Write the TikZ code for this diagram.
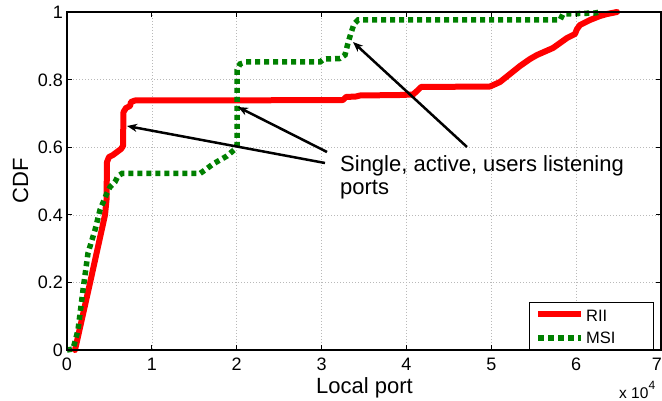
\documentclass[tikz,border=0pt]{standalone}
\usepackage{fontspec}
\setmainfont{Liberation Sans}
\usetikzlibrary{arrows.meta}
\begin{document}
\begin{tikzpicture}[x=1pt,y=-1pt,
  gridline/.style={gray!55, line width=0.6pt, dash pattern=on 0.8pt off 2.2pt},
  axisline/.style={black, line width=1.5pt},
  tickline/.style={black, line width=1pt},
  riicurve/.style={red, line width=6pt, line join=round, line cap=round},
  msicurve/.style={green!50!black, line width=5.5pt, dash pattern=on 5pt off 4pt},
  pointer/.style={black, line width=2.5pt, -{Stealth[length=10pt,width=8pt,inset=3pt]}},
  ticklabel/.style={font=\fontsize{18}{18}\selectfont, inner sep=0pt},
  axlabel/.style={font=\fontsize{22}{22}\selectfont, inner sep=0pt},
  notelabel/.style={font=\fontsize{22}{22}\selectfont, inner sep=0pt},
  legtext/.style={font=\fontsize{16.5}{16.5}\selectfont, inner sep=0pt}
]
\useasboundingbox (0,0) rectangle (662,401);
% grid
\foreach \v in {1,...,6} \draw[gridline] ({67+84.857*\v},12) -- ({67+84.857*\v},350);
\foreach \p in {0.2,0.4,0.6,0.8} \draw[gridline] (67,{350-338*\p}) -- (661,{350-338*\p});
% RII curve
\draw[riicurve] (75,350) -- (90,283) -- (105,215) -- (106.5,200) -- (107,162) -- (109,157)
  -- (113,155) -- (117,152) -- (121,149) -- (123,146) -- (123.5,112) -- (126,108) -- (130,106)
  -- (131,102) -- (135,100.5) -- (200,100.5) -- (343,100) -- (346,97) -- (356,96.5) -- (360,95.5)
  -- (400,95) -- (413,94.5) -- (417,91) -- (421,87) -- (490,86.5) -- (500,82) -- (510,74)
  -- (520,66) -- (530,59) -- (537,55) -- (553,48) -- (567,38) -- (575,34) -- (577,29)
  -- (580,25) -- (590,20) -- (600,16) -- (607,14) -- (617,12);
% MSI curve
\draw[msicurve] (67,350) -- (73,349) -- (76,338) -- (78,330) -- (83,290) -- (88,253) -- (95,230)
  -- (100,210) -- (107,193) -- (110,187) -- (115,182) -- (118,176) -- (122,173.5) -- (200,173.5)
  -- (205,170) -- (213,164) -- (227,156) -- (234,150) -- (237,145) -- (237,70) -- (240,64)
  -- (246,62) -- (320,62) -- (324,59) -- (340,58.5) -- (345,55) -- (348,43) -- (351,33)
  -- (354,24) -- (358,20) -- (560,20) -- (563,14) -- (595,13) -- (600,12);
% axes box
\draw[axisline] (67,12) rectangle (661,350);
\foreach \v in {0,...,7} {
  \draw[tickline] ({67+84.857*\v},350) -- ({67+84.857*\v},345);
  \draw[tickline] ({67+84.857*\v},12) -- ({67+84.857*\v},17);
}
\foreach \v in {0,...,6} {
  \node[ticklabel, anchor=base] (xt\v) at ({67+84.857*\v},370) {\v};
}
\node[ticklabel, anchor=base east] (xt7) at (662,370) {7};
\foreach \p/\t in {0/0,0.2/0.2,0.4/0.4,0.6/0.6,0.8/0.8,1/1} {
  \draw[tickline] (67,{350-338*\p}) -- (72,{350-338*\p});
  \draw[tickline] (661,{350-338*\p}) -- (656,{350-338*\p});
  \node[ticklabel, anchor=base east] (yt\t) at (63,{356.5-338*\p}) {\t};
}
% axis labels
\node[axlabel, anchor=base] (xlab) at (364.5,393) {Local port};
\node[axlabel, rotate=90, anchor=base] (ylab) at (28,181) {CDF};
\node[legtext, anchor=base west, font=\fontsize{15.5}{15.5}\selectfont] (mult) at (619,398)
  {x 10\raisebox{9pt}{\fontsize{12}{12}\selectfont 4}};
% legend
\draw[black, line width=1pt, fill=white] (529,302) rectangle (653,350);
\draw[axisline] (529,350) -- (653,350);
\coordinate (lr1) at (538,314); \coordinate (lr2) at (581,314);
\coordinate (lg1) at (538,338); \coordinate (lg2) at (581,338);
\draw[red, line width=6pt] (lr1) -- (lr2);
\draw[green!50!black, line width=5.5pt, dash pattern=on 6pt off 4pt] (lg1) -- (lg2);
\node[legtext, anchor=base west] (legrii) at (586,321.5) {RII};
\node[legtext, anchor=base west] (legmsi) at (586,343.5) {MSI};
% annotation
\node[notelabel, anchor=base west] (note1) at (340,172) {Single, active, users listening};
\node[notelabel, anchor=base west] (note2) at (340,195) {ports};
\coordinate (tip1) at (127,126); \coordinate (tail1) at (325,163);
\coordinate (tip2) at (238,107); \coordinate (tail2) at (327,152);
\coordinate (tip3) at (353,42);  \coordinate (tail3) at (467,147);
\draw[pointer] (tail1) -- (tip1);
\draw[pointer] (tail2) -- (tip2);
\draw[pointer] (tail3) -- (tip3);
\end{tikzpicture}
\end{document}
